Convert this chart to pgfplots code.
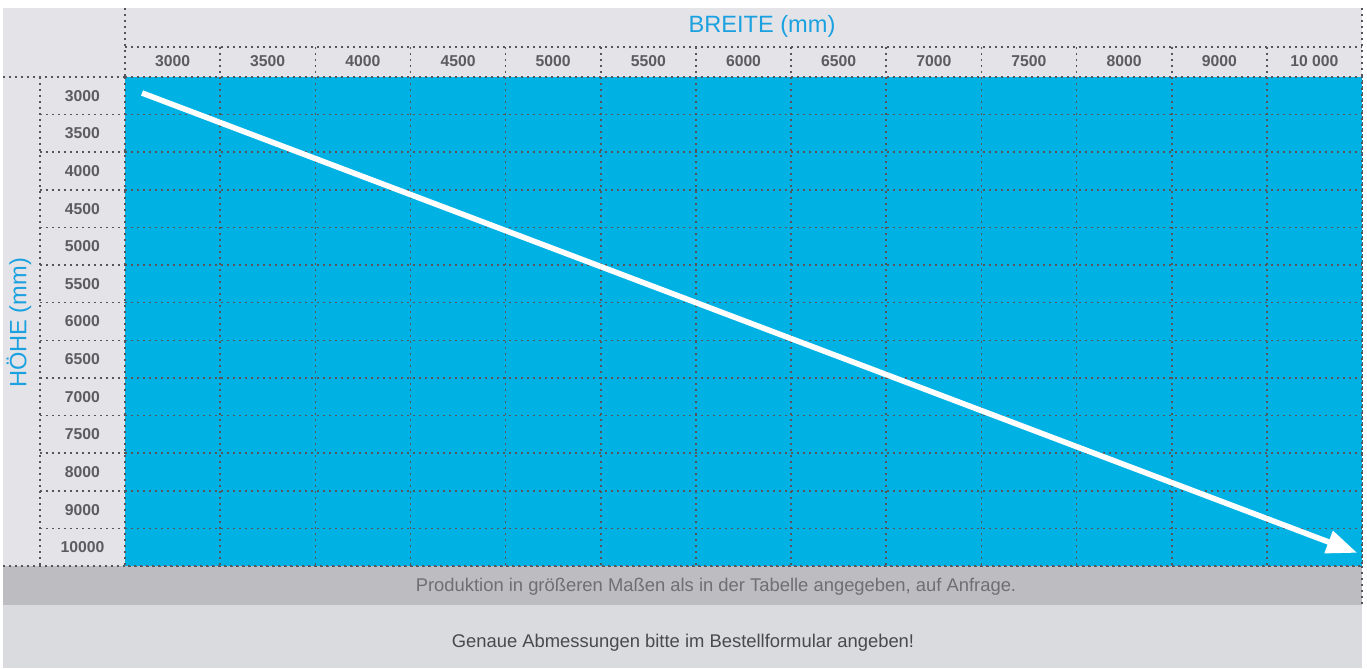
\documentclass[border=0pt]{standalone}
\usepackage{fontspec}
\setmainfont{Liberation Sans}
\usepackage{pgfplots}
\pgfplotsset{compat=1.18}
\usetikzlibrary{arrows.meta}
\definecolor{blueC}{HTML}{00B2E4}
\definecolor{hdrC}{HTML}{E4E4E8}
\definecolor{ft1C}{HTML}{BDBCC1}
\definecolor{ft2C}{HTML}{DADBDF}
\definecolor{titleC}{HTML}{1BA1E0}
\definecolor{lblC}{HTML}{5C5C60}
\definecolor{gridC}{HTML}{55555B}
\definecolor{ft1T}{HTML}{6E6E73}
\definecolor{ft2T}{HTML}{4A4A4E}
\tikzset{dotl/.style={draw=gridC, line width=1.2pt, dash pattern=on 1.2pt off 3.3pt}}
\begin{document}
\begin{tikzpicture}
\begin{scope}[x=0.75pt,y=-0.75pt,xshift=-93.75pt,yshift=424.5pt]
 \fill[white] (0,0) rectangle (1367,668);
 \fill[hdrC] (3,8) rectangle (1362,566);
 \fill[ft1C] (3,566) rectangle (1362,605);
 \fill[ft2C] (3,605) rectangle (1362,668);
 \node[text=titleC, font=\fontsize{17.7}{20}\selectfont, anchor=base, inner sep=0pt] at (762,33) {BREITE (mm)};
 \node[text=titleC, font=\fontsize{17.7}{20}\selectfont, rotate=90, anchor=center, inner sep=0pt] at (19,323) {HÖHE (mm)};
 \node[text=ft1T, font=\fontsize{13.8}{16}\selectfont, anchor=base, inner sep=0pt] at (716,591) {Produktion in größeren Maßen als in der Tabelle angegeben, auf Anfrage.};
 \node[text=ft2T, font=\fontsize{13.8}{16}\selectfont, anchor=base, inner sep=0pt] at (683,647) {Genaue Abmessungen bitte im Bestellformular angeben!};
 \draw[dotl] (125,47) -- (1362,47);
 \draw[dotl] (3,77) -- (125,77);
 \draw[dotl] (125,8) -- (125,77);
 \draw[dotl] (1362,8) -- (1362,605);
 \foreach \i in {1,...,12} {\draw[dotl] ({125+\i*95.154},47) -- ({125+\i*95.154},77);}
 \draw[dotl] (40,77) -- (40,566);
 \foreach \j in {1,...,12} {\draw[dotl] (40,{77+\j*37.615}) -- (125,{77+\j*37.615});}
 \draw[dotl] (3,566) -- (1362,566);
\end{scope}
\begin{axis}[
  scale only axis, width=927.75pt, height=366.75pt,
  xmin=0, xmax=13, ymin=0, ymax=13, y dir=reverse,
  axis background/.style={fill=blueC},
  axis line style={dotl},
  xtick={0.5,1.5,2.5,3.5,4.5,5.5,6.5,7.5,8.5,9.5,10.5,11.5,12.5},
  xticklabels={3000,3500,4000,4500,5000,5500,6000,6500,7000,7500,8000,9000,10 000},
  ytick={0.5,1.5,2.5,3.5,4.5,5.5,6.5,7.5,8.5,9.5,10.5,11.5,12.5},
  yticklabels={3000,3500,4000,4500,5000,5500,6000,6500,7000,7500,8000,9000,10000},
  xticklabel pos=top,
  major tick length=0, minor tick length=0,
  minor xtick={1,2,3,4,5,6,7,8,9,10,11,12},
  minor ytick={1,2,3,4,5,6,7,8,9,10,11,12},
  xminorgrids=true, yminorgrids=true,
  minor grid style={dotl},
  tick label style={font=\bfseries\fontsize{11.8}{13}\selectfont, text=lblC, inner sep=0pt},
  xticklabel style={anchor=center, yshift=11.6pt},
  yticklabel style={anchor=center, xshift=-31.9pt},
]
\addplot[white, line width=4.2pt, -{Triangle[length=23pt,width=17pt]}] coordinates {(0.179,0.425) (12.95,12.65)};
\end{axis}
\end{tikzpicture}
\end{document}
